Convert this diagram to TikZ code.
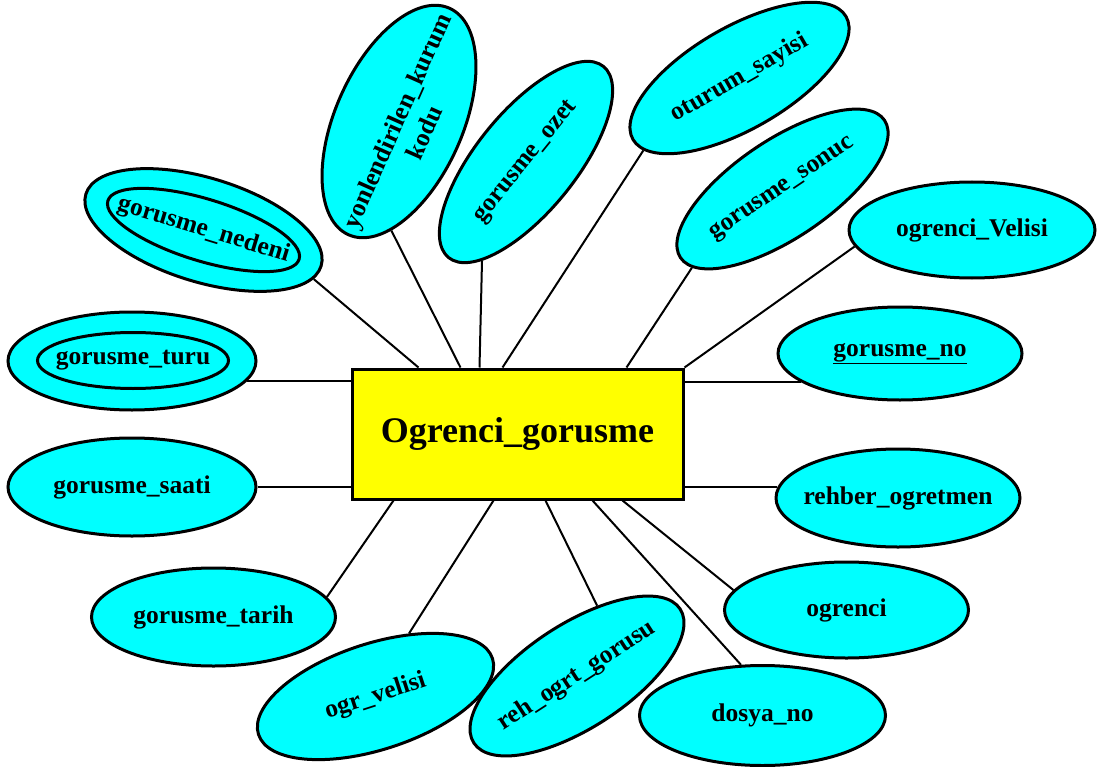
\documentclass[tikz,border=0pt]{standalone}
\usepackage{fontspec}
\setmainfont{Liberation Serif}
\usetikzlibrary{shapes.geometric,calc}
\definecolor{attrcyan}{RGB}{0,255,255}
\definecolor{entyellow}{RGB}{255,255,0}
\begin{document}
\begin{tikzpicture}[x=1pt,y=-1pt,
  lbl/.style={font=\fontsize{25.5}{30}\selectfont\bfseries},
  attr/.style={ellipse, draw=black, fill=attrcyan, line width=3pt, inner sep=0pt, lbl},
  innerell/.style={ellipse, draw=black, line width=3pt, inner sep=0pt, lbl},
  ent/.style={rectangle, draw=black, fill=entyellow, line width=3pt, inner sep=0pt,
    minimum width=331pt, minimum height=130pt, font=\fontsize{36}{40}\selectfont\bfseries},
  conn/.style={line width=2pt}]
\useasboundingbox (0,0) rectangle (1107,767);

% entity
\node[ent] (R) at (517.5,434) {Ogrenci\_gorusme};

% attributes
\node[attr, minimum width=248pt, minimum height=98pt] (turuO) at (132,361) {};
\node[innerell, minimum width=191pt, minimum height=56pt] (turu) at (133,360.5) {\makebox[0pt]{gorusme\_turu}};
\node[attr, rotate=-17, minimum width=246pt, minimum height=104pt] (nedeniO) at (203.5,230) {};
\node[innerell, rotate=-17, minimum width=200pt, minimum height=62pt] (nedeni) at (203.5,230) {\makebox[0pt]{gorusme\_nedeni}};
\node[attr, rotate=66, minimum width=248pt, minimum height=102pt] (yon) at (399,121.5)
  {\makebox[0pt]{\begin{tabular}{@{}c@{}}\strut\\yonlendirilen\_kurum\\kodu\end{tabular}}};
\node[attr, rotate=51, minimum width=246pt, minimum height=100pt] (ozet) at (526,162) {\makebox[0pt]{gorusme\_ozet}};
\node[attr, rotate=30, minimum width=246pt, minimum height=102pt] (oturum) at (739.5,78) {\makebox[0pt]{oturum\_sayisi}};
\node[attr, rotate=34, minimum width=246pt, minimum height=98pt] (sonuc) at (782.5,189) {\makebox[0pt]{gorusme\_sonuc}};
\node[attr, minimum width=246pt, minimum height=96pt] (velisi) at (972,230) {\makebox[0pt]{ogrenci\_Velisi}};
\node[attr, minimum width=244pt, minimum height=93pt] (gno) at (900,353.5) {\makebox[0pt]{\underline{gorusme\_no}}};
\node[attr, minimum width=244pt, minimum height=98pt] (rehber) at (898,498) {\makebox[0pt]{rehber\_ogretmen}};
\node[attr, minimum width=244pt, minimum height=96pt] (ogrenci) at (846.5,610) {\makebox[0pt]{ogrenci}};
\node[attr, minimum width=246pt, minimum height=100pt] (dosya) at (762.5,715.5) {\makebox[0pt]{dosya\_no}};
\node[attr, rotate=33, minimum width=246pt, minimum height=104pt] (reh) at (577,676) {\makebox[0pt]{reh\_ogrt\_gorusu}};
\node[attr, rotate=18, minimum width=246pt, minimum height=106pt] (ogrv) at (375.5,696.5) {\makebox[0pt]{ogr\_velisi}};
\node[attr, minimum width=244pt, minimum height=98pt] (tarih) at (213.5,617) {\makebox[0pt]{gorusme\_tarih}};
\node[attr, minimum width=248pt, minimum height=98pt] (saati) at (132,487) {\makebox[0pt]{gorusme\_saati}};

% attachment points on the entity
\coordinate (aN) at ($(R.north west)+(68,0)$);
\coordinate (aY) at ($(R.north west)+(110,0)$);
\coordinate (aZ) at ($(R.north west)+(129,0)$);
\coordinate (aO) at ($(R.north west)+(152,0)$);
\coordinate (aS) at ($(R.north west)+(276,0)$);
\coordinate (bT) at ($(R.south west)+(43,0)$);
\coordinate (bV) at ($(R.south west)+(143,0)$);
\coordinate (bR) at ($(R.south west)+(195,0)$);
\coordinate (bD) at ($(R.south west)+(242,0)$);
\coordinate (bO) at ($(R.south west)+(272,0)$);

% connectors
\draw[conn] (turuO.-10) -- (turuO.-10 -| R.west);
\draw[conn] (saati.east) -- (saati.east -| R.west);
\draw[conn] (gno.-164) -- (gno.-164 -| R.east);
\draw[conn] (rehber.175) -- (rehber.175 -| R.east);
\draw[conn] (nedeniO.-7) -- (aN);
\draw[conn] (yon.-160) -- (aY);
\draw[conn] (ozet.-165) -- (aZ);
\draw[conn] (oturum.-173) -- (aO);
\draw[conn] (sonuc.-173) -- (aS);
\draw[conn] (velisi.-172) -- (R.north east);
\draw[conn] (tarih.10) -- (bT);
\draw[conn] (ogrv.44) -- (bV);
\draw[conn] (reh.41) -- (bR);
\draw[conn] (dosya.113) -- (bD);
\draw[conn] (ogrenci.170) -- (bO);
\end{tikzpicture}
\end{document}
